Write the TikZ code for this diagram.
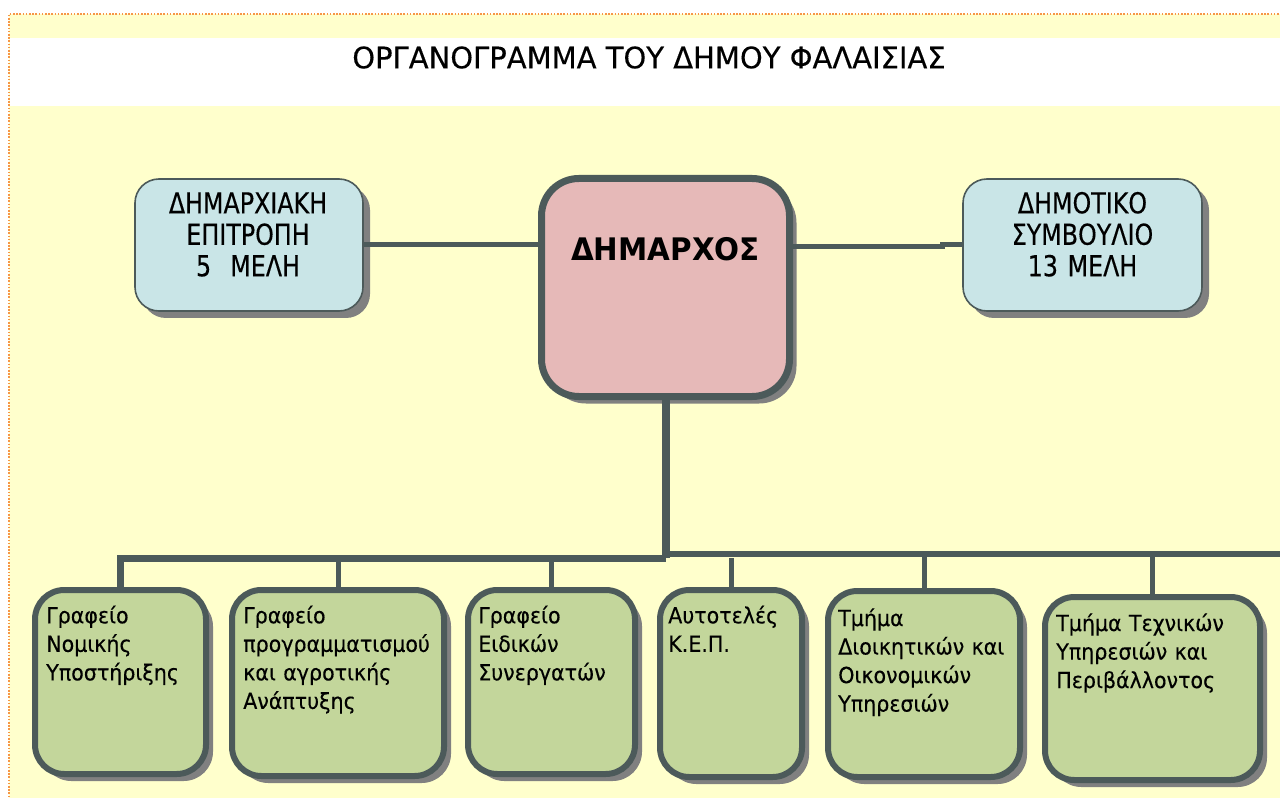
\documentclass[tikz,border=0pt]{standalone}
\usepackage{fontspec}
\setmainfont{DejaVu Sans}
\newfontfamily\titlefont{DejaVu Sans}[FakeStretch=0.98, FakeBold=0.3]
\newfontfamily\topfont{DejaVu Sans}[FakeStretch=0.825, FakeBold=0.3]
\newfontfamily\chieffont{DejaVu Sans}[FakeStretch=0.946]
\newfontfamily\unitfont{DejaVu Sans}[FakeStretch=0.93, FakeBold=0.3]
\usetikzlibrary{shadows}
\definecolor{bgyellow}{RGB}{255,255,204}
\definecolor{dotclr}{RGB}{247,150,70}
\definecolor{lineclr}{RGB}{76,90,90}
\definecolor{blueclr}{RGB}{201,229,231}
\definecolor{pinkclr}{RGB}{230,185,184}
\definecolor{greenclr}{RGB}{195,214,155}
\definecolor{shadowclr}{RGB}{128,128,128}
\tikzset{
  shad/.style={drop shadow={shadow xshift=5.25pt, shadow yshift=-5.25pt, fill=shadowclr, opacity=1}},
  topbox/.style={draw=lineclr, line width=1.2pt, fill=blueclr, rounded corners=18pt, shad, inner sep=0pt},
  mainbox/.style={draw=lineclr, line width=5.25pt, fill=pinkclr, rounded corners=28pt, shad, inner sep=0pt},
  unitbox/.style={draw=lineclr, line width=4.5pt, fill=greenclr, rounded corners=22pt, shad, inner sep=0pt},
  conn/.style={draw=lineclr, line width=3.75pt},
  toptext/.style={font=\topfont\fontsize{21.6pt}{23.6pt}\selectfont, anchor=base, align=center, text width=165pt, inner sep=0pt},
  unittext/.style={font=\unitfont\fontsize{16.6pt}{21.4pt}\selectfont, anchor=base west, align=left, text width=165pt, inner sep=0pt},
}
\begin{document}
\begin{tikzpicture}[x=0.75pt,y=-0.75pt]
\useasboundingbox (0,0) rectangle (1280,798);
% background
\fill[white] (0,0) rectangle (1280,798);
\fill[bgyellow] (9,14) rectangle (1290,810);
\draw[dotclr, line width=1.2pt, dash pattern=on 1.2pt off 1.2pt] (9,810) -- (9,14) -- (1290,14);
\fill[white] (10,38) rectangle (1280,106);
\node[font=\titlefont\fontsize{22.2pt}{26pt}\selectfont, anchor=base, inner sep=0pt] (title) at (649,68.3) {ΟΡΓΑΝΟΓΡΑΜΜΑ ΤΟΥ ΔΗΜΟΥ ΦΑΛΑΙΣΙΑΣ};

% top boxes
\node[topbox, minimum width=228*0.75pt, minimum height=132*0.75pt] (L) at (249,245) {};
\node[topbox, minimum width=239*0.75pt, minimum height=132*0.75pt] (R) at (1082.5,245) {};
\node[mainbox, minimum width=248*0.75pt, minimum height=218*0.75pt] (C) at (665.5,287.5) {};

\node[toptext] (Lt) at (248,213.3) {ΔΗΜΑΡΧΙΑΚΗ\\ΕΠΙΤΡΟΠΗ\\5~~ΜΕΛΗ};
\node[toptext] (Rt) at (1082.5,213.3) {ΔΗΜΟΤΙΚΟ\\ΣΥΜΒΟΥΛΙΟ\\13 ΜΕΛΗ};
\node[font=\chieffont\fontsize{23.3pt}{28pt}\selectfont\bfseries, anchor=base, inner sep=0pt] (Ct) at (665.5,261) {ΔΗΜΑΡΧΟΣ};

% bottom boxes
\node[unitbox, minimum width=171*0.75pt, minimum height=184*0.75pt] (B1) at (120.5,682) {};
\node[unitbox, minimum width=212*0.75pt, minimum height=186*0.75pt] (B2) at (338,683) {};
\node[unitbox, minimum width=167*0.75pt, minimum height=184*0.75pt] (B3) at (551.5,682) {};
\node[unitbox, minimum width=142*0.75pt, minimum height=187*0.75pt] (B4) at (731,683.5) {};
\node[unitbox, minimum width=192*0.75pt, minimum height=186*0.75pt] (B5) at (924,684) {};
\node[unitbox, minimum width=215*0.75pt, minimum height=183*0.75pt] (B6) at (1152.5,688.5) {};

\node[unittext] (B1t) at (46,623.3) {Γραφείο\\Νομικής\\Υποστήριξης};
\node[unittext] (B2t) at (243,623.3) {Γραφείο\\προγραμματισμού\\και αγροτικής\\Ανάπτυξης};
\node[unittext] (B3t) at (478,623.3) {Γραφείο\\Ειδικών\\Συνεργατών};
\node[unittext] (B4t) at (668,623.3) {Αυτοτελές\\Κ.Ε.Π.};
\node[unittext] (B5t) at (838,626) {Τμήμα\\Διοικητικών και\\Οικονομικών\\Υπηρεσιών};
\node[unittext] (B6t) at (1056,631) {Τμήμα Τεχνικών\\Υπηρεσιών και\\Περιβάλλοντος};

% connectors
\coordinate (busL) at (0,558);
\coordinate (busR) at (0,554);
\coordinate (busEnd) at (1285,554);
\coordinate (jog) at (942,247);
\draw[conn] (L.east) -- (L.east -| C.west);
\draw[conn] (C.east |- jog) -- (jog) -- ++(0,-2) -- (R.west);
\draw[conn, line width=6pt] (C.south) -- (C.south |- busL);
\draw[conn, line width=5.25pt] (B1.north) |- (C.south |- busL);
\draw[conn, line width=4.5pt] (C.south |- busR) -- (busEnd);
\draw[conn] (B2.north) -- (B2.north |- busL);
\draw[conn] (B3.north) -- (B3.north |- busL);
\draw[conn] (B4.north) -- (B4.north |- busL);
\draw[conn] (B5.north) -- (B5.north |- busR);
\draw[conn] (B6.north) -- (B6.north |- busR);
\end{tikzpicture}
\end{document}
